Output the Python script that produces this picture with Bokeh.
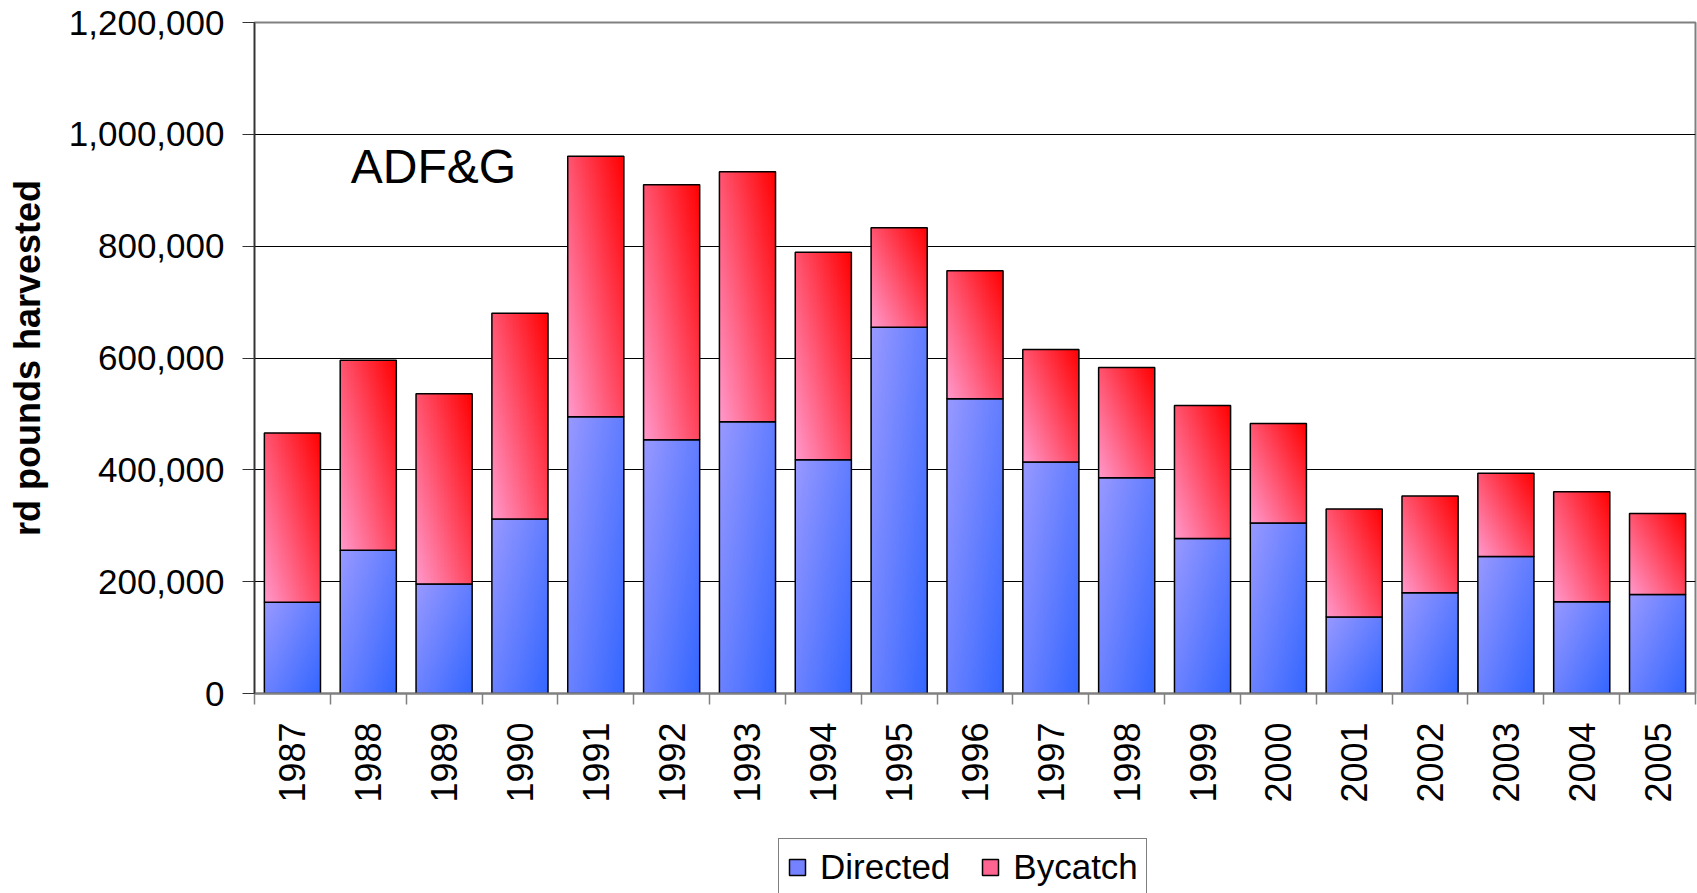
import numpy as np
from math import pi
from bokeh.plotting import figure
from bokeh.layouts import column
from bokeh.models import (ColumnDataSource, Range1d, FixedTicker, NumeralTickFormatter,
                          CustomJSTickFormatter, Legend, LegendItem, Label)
from bokeh.embed import file_html
from bokeh.resources import INLINE

# ---- data ----
years = ["1987", "1988", "1989", "1990", "1991", "1992", "1993", "1994", "1995", "1996",
         "1997", "1998", "1999", "2000", "2001", "2002", "2003", "2004", "2005"]
directed = [163000, 256000, 196000, 312000, 495000, 454000, 486000, 418000, 655000, 527000,
            414000, 386000, 277000, 305000, 137000, 180000, 245000, 164000, 177000]
bycatch = [303000, 340000, 340000, 368000, 466000, 456000, 447000, 371000, 178000, 229000,
           201000, 197000, 238000, 178000, 193000, 173000, 149000, 197000, 145000]
y_ticks = [0, 200000, 400000, 600000, 800000, 1000000, 1200000]
series_names = ["Directed", "Bycatch"]
annotation = "ADF&G"
y_title = "rd pounds harvested"

FONT = "Liberation Sans"
BW = 0.74  # bar width as fraction of category slot
BLUE_MID = "#7482ff"
RED_MID = "#ff6590"

n = len(years)
xc = [i + 0.5 for i in range(n)]
tops = [d + b for d, b in zip(directed, bycatch)]


def grad_img(c0, c1, rising, h=120, w=40):
    u = (np.arange(w) + 0.5) / w
    v = (np.arange(h) + 0.5) / h          # row 0 = bottom
    U, V = np.meshgrid(u, v)
    t = 0.55 * U + 0.45 * (V if rising else (1 - V))
    t = np.clip(t, 0, 1)
    rgba = np.zeros((h, w, 4), dtype=np.uint8)
    for k in range(3):
        rgba[..., k] = np.round(c0[k] + (c1[k] - c0[k]) * t).astype(np.uint8)
    rgba[..., 3] = 255
    return rgba.view(np.uint32).reshape(h, w)


blue_img = grad_img((153, 153, 255), (51, 102, 255), rising=False)
red_img = grad_img((255, 153, 204), (255, 0, 0), rising=True)

src = ColumnDataSource(dict(
    xc=xc, x0=[x - BW / 2 for x in xc], dw=[BW] * n,
    directed=directed, bycatch=bycatch, tops=tops, zero=[0] * n,
    blue=[blue_img] * n, red=[red_img] * n,
))

p = figure(width=1697, height=806,
           x_range=Range1d(0, n), y_range=Range1d(y_ticks[0], y_ticks[-1]),
           output_backend="svg", toolbar_location=None,
           min_border_left=254, min_border_right=2, min_border_top=22, min_border_bottom=113,
           background_fill_color="white", border_fill_color="white")
p.outline_line_color = "#808080"
p.outline_line_width = 2

# Directed
p.image_rgba(image="blue", x="x0", y="zero", dw="dw", dh="directed", source=src)
p.vbar(x="xc", width=BW, bottom="zero", top="directed", source=src,
       fill_alpha=0, line_color="black", line_width=1.5)

# Bycatch
p.image_rgba(image="red", x="x0", y="directed", dw="dw", dh="bycatch", source=src)
p.vbar(x="xc", width=BW, bottom="directed", top="tops", source=src,
       fill_alpha=0, line_color="black", line_width=1.5)

# grid
p.xgrid.visible = False
p.ygrid.grid_line_color = "black"
p.ygrid.grid_line_width = 1
p.ygrid.bounds = (y_ticks[0], y_ticks[-2])

# y axis
yax = p.yaxis[0]
yax.ticker = FixedTicker(ticks=y_ticks)
yax.formatter = NumeralTickFormatter(format="0,0")
yax.major_label_text_font = FONT
yax.major_label_text_font_size = "35px"
yax.major_label_text_color = "black"
yax.major_tick_out = 12
yax.major_tick_in = 0
yax.minor_tick_line_color = None
yax.major_label_standoff = 18
yax.axis_line_color = "#333333"
yax.axis_line_width = 1.5
yax.major_tick_line_color = "#333333"
yax.axis_label = y_title
yax.axis_label_text_font = FONT
yax.axis_label_text_font_size = "36px"
yax.axis_label_text_font_style = "bold"
yax.axis_label_text_color = "black"
yax.axis_label_standoff = 18

# x axis
xax = p.xaxis[0]
xax.ticker = FixedTicker(ticks=xc, minor_ticks=list(range(n + 1)))
xax.formatter = CustomJSTickFormatter(args=dict(labels=years), code="""
    const i = Math.round(tick - 0.5);
    return (i >= 0 && i < labels.length) ? labels[i] : '';
""")
xax.major_label_orientation = pi / 2
xax.major_label_text_font = FONT
xax.major_label_text_font_size = "36px"
xax.major_label_text_color = "black"
xax.major_tick_out = 0
xax.major_tick_in = 0
xax.minor_tick_out = 11
xax.minor_tick_in = 0
xax.minor_tick_line_color = "#808080"
xax.minor_tick_line_width = 1.5
xax.axis_line_color = "#808080"
xax.axis_line_width = 2
xax.major_label_standoff = 18

# annotation
p.add_layout(Label(x=1.27, y=942000, text=annotation, text_font=FONT,
                   text_font_size="48px", text_color="black", text_baseline="alphabetic"))

# ---- legend strip (separate small figure below the chart) ----
pl = figure(width=1697, height=87, x_range=Range1d(0, 1), y_range=Range1d(0, 1),
            output_backend="svg", toolbar_location=None,
            x_axis_type=None, y_axis_type=None,
            min_border_left=0, min_border_right=0, min_border_top=0, min_border_bottom=0,
            background_fill_color="white", border_fill_color="white")
pl.outline_line_color = None
pl.xgrid.visible = False
pl.ygrid.visible = False
# proxy renderers (no drawable data) that only supply legend swatches
proxy = ColumnDataSource(dict(x=np.array([np.nan]), top=np.array([np.nan])))
r_dir = pl.vbar(x="x", top="top", width=0.1, source=proxy,
                fill_color=BLUE_MID, line_color="black", line_width=1.5)
r_by = pl.vbar(x="x", top="top", width=0.1, source=proxy,
               fill_color=RED_MID, line_color="black", line_width=1.5)
legend = Legend(items=[LegendItem(label=series_names[0], renderers=[r_dir]),
                       LegendItem(label=series_names[1], renderers=[r_by])],
                orientation="horizontal", location=(524, -3),
                label_text_font=FONT, label_text_font_size="35px", label_text_color="black",
                glyph_width=20, glyph_height=20, label_standoff=13, spacing=30,
                padding=8, label_height=30, border_line_color="black", border_line_width=1,
                background_fill_color="white", margin=0)
pl.add_layout(legend, "center")

open("out.html", "w").write(file_html(column(p, pl, spacing=0), INLINE))
